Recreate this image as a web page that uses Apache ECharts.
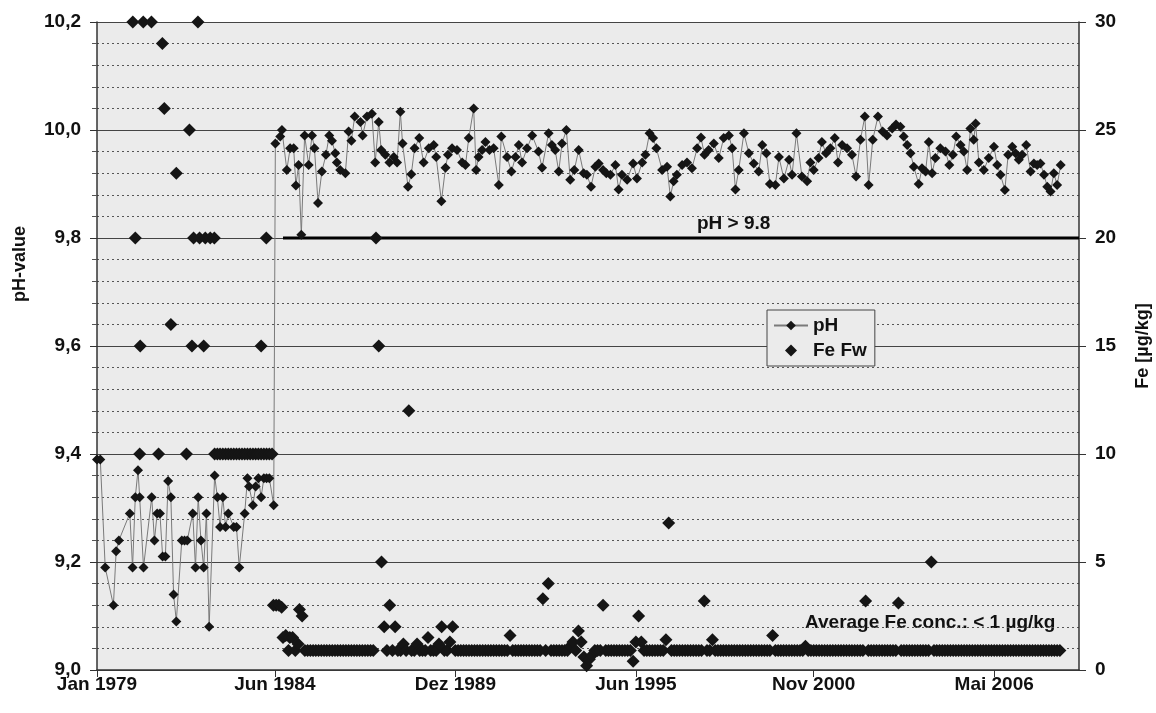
<!DOCTYPE html>
<html>
<head>
<meta charset="utf-8">
<script src="https://cdn.jsdelivr.net/npm/echarts@6/dist/echarts.min.js"></script>
<style>
html,body{margin:0;padding:0;background:#fff;}
#chart{width:1156px;height:713px;}
</style>
</head>
<body>
<div id="chart"></div>
<script>
// x is months since Jan 1979
var tickMonths = [0, 65, 131, 197, 262, 328];
var tickLabels = ['Jan 1979', 'Jun 1984', 'Dez 1989', 'Jun 1995', 'Nov 2000', 'Mai 2006'];

var phMonths = [0,1.2,3,6,7,8,12,13,14,15,15.6,17,20,21,22,23,24,25,26,27,28,29,31,32,33,35,36,37,38,39,40,41,43,44,45,46,47,48,50,51,52,54,55,55.6,57,58,59,60,61,62,63,64.6,
65.2,67,67.6,69.4,70.6,71.9,72.7,73.7,74.7,75.9,77.4,78.6,79.5,80.8,82.2,83.7,84.9,85.9,87.1,87.7,88.9,90.8,92,93,94.2,96.3,97.1,98.7,100.5,101.7,103,103.9,105.4,106.9,108.5,109.7,110.9,111.7,113.7,114.9,116.1,117.8,119.4,121.3,123.1,124,125.9,127.4,128.3,129.8,131.6,133.5,134.7,135.9,137.7,138.6,139.5,140.8,142,143.5,145,146.9,147.8,149.9,151.5,153,154.2,155.4,157.2,159.1,
161.4,162.7,165.1,166.3,167.5,168.8,170,171.6,173,174.5,176.1,177.9,179.1,180.6,182.2,183.4,185,186.2,187.7,189.5,190.7,191.9,193.8,196,197.4,199.3,200.5,202,203.3,204.5,206.6,208.4,209.6,210.8,212,213.9,215.7,217.5,219.4,220.8,222.1,223.6,225.5,227.3,229.1,231,232.2,233.4,234.6,236.5,238.3,240.1,241.9,243.2,244.7,246,248,249.3,251.1,253,254.1,255.7,
257.7,259.6,260.8,262,263.8,265,266.5,268.1,269.7,270.9,272.4,274.2,276,277.5,279.1,280.7,282.1,283.6,285.5,287.2,288.8,290.7,292.1,293.7,294.9,296.2,297.4,298.6,300.4,301.6,302.9,304.1,305.3,306.5,308.3,310.2,311.6,312.9,314.1,315.7,316.9,318.1,319.3,320.5,321.2,322.4,324.2,326,327.9,329.1,330.3,331.9,333.1,334.6,335.8,337,338.2,339.7,341.3,342.5,343.7,344.9,346.2,347.4,348.6,349.8,351,352.3];
var phValues = [9.39,9.39,9.19,9.12,9.22,9.24,9.29,9.19,9.32,9.37,9.32,9.19,9.32,9.24,9.29,9.29,9.21,9.21,9.35,9.32,9.14,9.09,9.24,9.24,9.24,9.29,9.19,9.32,9.24,9.19,9.29,9.08,9.36,9.32,9.265,9.32,9.265,9.29,9.265,9.265,9.19,9.29,9.355,9.34,9.305,9.34,9.355,9.32,9.355,9.355,9.355,9.305,
9.975,9.988,10.0,9.926,9.966,9.966,9.897,9.935,9.806,9.99,9.935,9.99,9.966,9.865,9.923,9.954,9.99,9.98,9.957,9.94,9.926,9.92,9.997,9.98,10.025,10.015,9.99,10.025,10.03,9.94,10.015,9.963,9.954,9.94,9.95,9.94,10.034,9.975,9.895,9.918,9.966,9.985,9.94,9.966,9.972,9.95,9.868,9.93,9.954,9.966,9.963,9.94,9.935,9.985,10.04,9.926,9.95,9.963,9.978,9.963,9.966,9.898,9.988,9.95,9.923,9.95,9.972,9.94,9.966,9.99,
9.96,9.93,9.994,9.972,9.963,9.923,9.975,10.0,9.908,9.926,9.963,9.92,9.917,9.895,9.932,9.938,9.926,9.92,9.917,9.935,9.89,9.917,9.908,9.938,9.91,9.94,9.954,9.994,9.985,9.966,9.926,9.932,9.877,9.905,9.917,9.935,9.94,9.929,9.966,9.986,9.954,9.963,9.975,9.948,9.985,9.99,9.966,9.89,9.926,9.994,9.957,9.938,9.923,9.972,9.957,9.9,9.898,9.95,9.91,9.945,9.917,9.994,
9.914,9.905,9.94,9.926,9.948,9.978,9.957,9.966,9.985,9.94,9.972,9.966,9.954,9.914,9.982,10.025,9.898,9.982,10.025,9.997,9.99,10.003,10.01,10.006,9.988,9.972,9.957,9.932,9.9,9.929,9.923,9.978,9.92,9.948,9.966,9.96,9.935,9.954,9.988,9.972,9.96,9.926,10.003,9.982,10.012,9.94,9.926,9.948,9.969,9.935,9.917,9.889,9.954,9.969,9.957,9.945,9.954,9.972,9.923,9.938,9.935,9.938,9.917,9.895,9.886,9.92,9.898,9.935];

// Fe (Feedwater) 1979 - 1985, irregular sampling
var feEarlyMonths = [13.1,14,15.6,15.8,16.9,19.9,22.5,23.9,24.6,27,29,32.7,33.8,34.7,35.3,36.9,37.5,39,39.6,41.4,42.9,
43,44,45,46,47,48,49,50,51,52,53,54,55,56,57,58,59,60,61,62,63,64,60,61.9,
64.5,65.5,66.5,67.5,68,69,70,70.5,71.5,72.5,73.5];
var feEarlyValues = [30,20,10,15,30,30,10,29,26,16,23,10,25,15,20,30,20,15,20,20,20,
10,10,10,10,10,10,10,10,10,10,10,10,10,10,10,10,10,10,10,10,10,10,15,20,
3,3,3,2.9,1.5,1.6,0.9,1.5,1.5,0.9,1.2];
// Fe monthly from month 74 (Mar 1985) to month 352 (May 2008)
var feMonthlyStart = 74;
var feMonthly = [
2.8,2.5,0.9,0.9,0.9,0.9,0.9,0.9,0.9,0.9,
0.9,0.9,0.9,0.9,0.9,0.9,0.9,0.9,0.9,0.9,
0.9,0.9,0.9,0.9,0.9,0.9,0.9,0.9,20,15,
5,2,0.9,3,0.9,2,0.9,0.9,1.2,0.9,
12,0.9,0.9,1.2,0.9,0.9,0.9,1.5,0.9,0.9,
0.9,1.2,2,0.9,0.9,1.3,2,0.9,0.9,0.9,
0.9,0.9,0.9,0.9,0.9,0.9,0.9,0.9,0.9,0.9,
0.9,0.9,0.9,0.9,0.9,0.9,0.9,1.6,0.9,0.9,
0.9,0.9,0.9,0.9,0.9,0.9,0.9,0.9,0.9,3.3,
0.9,4,0.9,0.9,0.9,0.9,0.9,0.9,0.9,1.1,
1.3,0.9,1.8,1.3,0.6,0.2,0.5,0.7,0.9,0.9,
0.9,3,0.9,0.9,0.9,0.9,0.9,0.9,0.9,0.9,
0.9,0.9,0.4,1.3,2.5,1.3,0.9,0.9,0.9,0.9,
0.9,0.9,0.9,0.9,1.4,6.8,0.9,0.9,0.9,0.9,
0.9,0.9,0.9,0.9,0.9,0.9,0.9,0.9,3.2,0.9,
0.9,1.4,0.9,0.9,0.9,0.9,0.9,0.9,0.9,0.9,
0.9,0.9,0.9,0.9,0.9,0.9,0.9,0.9,0.9,0.9,
0.9,0.9,0.9,1.6,0.9,0.9,0.9,0.9,0.9,0.9,
0.9,0.9,0.9,0.9,0.9,1.1,0.9,0.9,0.9,0.9,
0.9,0.9,0.9,0.9,0.9,0.9,0.9,0.9,0.9,0.9,
0.9,0.9,0.9,0.9,0.9,0.9,0.9,3.2,0.9,0.9,
0.9,0.9,0.9,0.9,0.9,0.9,0.9,0.9,0.9,3.1,
0.9,0.9,0.9,0.9,0.9,0.9,0.9,0.9,0.9,0.9,
0.9,5,0.9,0.9,0.9,0.9,0.9,0.9,0.9,0.9,
0.9,0.9,0.9,0.9,0.9,0.9,0.9,0.9,0.9,0.9,
0.9,0.9,0.9,0.9,0.9,0.9,0.9,0.9,0.9,0.9,
0.9,0.9,0.9,0.9,0.9,0.9,0.9,0.9,0.9,0.9,
0.9,0.9,0.9,0.9,0.9,0.9,0.9,0.9,0.9];

var limitValue = 9.8;
var limitFrom = 68;
var limitTo = 359;

// ---- build data ----
var phData = phMonths.map(function (m, i) { return [m, phValues[i]]; });
var feData = feEarlyMonths.map(function (m, i) { return [m, feEarlyValues[i]]; });
feMonthly.forEach(function (v, i) { feData.push([feMonthlyStart + i, v]); });
var limitData = [[limitFrom, limitValue], [limitTo, limitValue]];

var FONT = '"Liberation Sans", Arial, sans-serif';
var TXT = '#111';
var DIAMOND = 'path://M0,-1L1,0L0,1L-1,0Z';

var chart = echarts.init(document.getElementById('chart'), null, {renderer: 'canvas'});
chart.setOption({
  animation: false,
  backgroundColor: '#ffffff',
  textStyle: {fontFamily: FONT},
  grid: {left: 97, right: 77, top: 22, bottom: 43, show: true, backgroundColor: '#ebebeb', borderWidth: 0,
         containLabel: false, outerBoundsMode: 'none'},
  legend: {
    orient: 'vertical', left: 767, top: 310,
    backgroundColor: '#ebebeb', borderColor: '#444', borderWidth: 1,
    padding: [6, 8, 6, 6], itemWidth: 34, itemHeight: 12, itemGap: 6,
    symbolKeepAspect: true,
    textStyle: {fontSize: 19, fontWeight: 'bold', color: TXT, fontFamily: FONT},
    data: [{name: 'pH'}, {name: 'Fe Fw', icon: DIAMOND}]
  },
  xAxis: {
    type: 'value', min: 0, max: 359,
    axisLine: {show: true, lineStyle: {color: '#333', width: 1.5}},
    axisTick: {show: true, length: 7, customValues: tickMonths, lineStyle: {color: '#333'}},
    axisLabel: {
      customValues: tickMonths, margin: 5,
      fontSize: 19, fontWeight: 'bold', color: TXT, fontFamily: FONT,
      formatter: function (v) {
        var i = tickMonths.indexOf(Math.round(v));
        return i >= 0 ? tickLabels[i] : '';
      }
    },
    splitLine: {show: false}
  },
  yAxis: [{
    type: 'value', min: 9.0, max: 10.2, interval: 0.2, position: 'left',
    axisLine: {show: true, lineStyle: {color: '#333', width: 1.5}},
    axisTick: {show: true, length: 7, inside: false, lineStyle: {color: '#333'}},
    minorTick: {show: true, splitNumber: 5, length: 5, lineStyle: {color: '#555'}},
    axisLabel: {
      margin: 16, fontSize: 19, fontWeight: 'bold', color: TXT, fontFamily: FONT,
      formatter: function (v) { return v.toFixed(1).replace('.', ','); }
    },
    splitLine: {show: true, lineStyle: {color: '#444', width: 1.2, type: 'solid'}},
    minorSplitLine: {show: true, lineStyle: {color: '#555', width: 1.2, type: [2, 3]}}
  }, {
    type: 'value', min: 0, max: 30, interval: 5, position: 'right',
    name: 'Fe [µg/kg]', nameLocation: 'middle', nameRotate: 90, nameGap: 55,
    nameTextStyle: {fontSize: 18, fontWeight: 'bold', color: TXT, fontFamily: FONT},
    axisLine: {show: true, lineStyle: {color: '#333', width: 1.5}},
    axisTick: {show: true, length: 7, lineStyle: {color: '#333'}},
    axisLabel: {margin: 16, fontSize: 19, fontWeight: 'bold', color: TXT, fontFamily: FONT},
    splitLine: {show: false}
  }],
  series: [{
    name: 'pH', type: 'line', yAxisIndex: 0, data: phData,
    symbol: 'diamond', symbolSize: 10, showSymbol: true,
    itemStyle: {color: '#151515'},
    lineStyle: {color: '#7a7a7a', width: 1},
    z: 3
  }, {
    name: 'Fe Fw', type: 'scatter', yAxisIndex: 1, data: feData,
    symbol: 'diamond', symbolSize: 13,
    itemStyle: {color: '#151515', opacity: 1},
    z: 4
  }, {
    name: 'limit', type: 'line', yAxisIndex: 0, data: limitData,
    symbol: 'none', lineStyle: {color: '#000', width: 3},
    z: 2, silent: true
  }],
  graphic: [{
    type: 'text', x: 20, y: 264, rotation: Math.PI / 2, silent: true,
    style: {text: 'pH-value', font: 'bold 18px ' + FONT, fill: TXT, align: 'center', verticalAlign: 'middle'}
  }, {
    type: 'text', left: 697, top: 214, silent: true,
    style: {text: 'pH > 9.8', font: 'bold 19px ' + FONT, fill: TXT}
  }, {
    type: 'text', left: 805, top: 613, silent: true,
    style: {text: 'Average Fe conc.: < 1 µg/kg', font: 'bold 19px ' + FONT, fill: TXT}
  }]
});
</script>
</body>
</html>
